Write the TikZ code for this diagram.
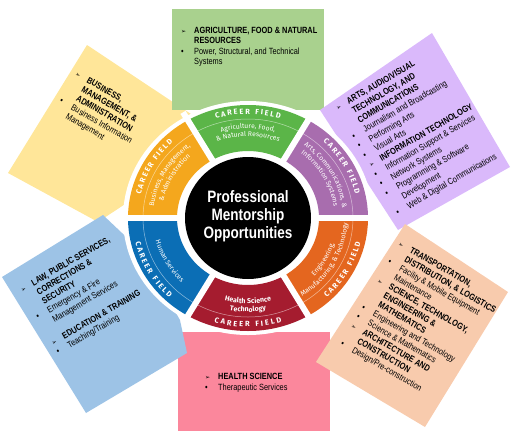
\documentclass[tikz,border=0pt]{standalone}
\usepackage{fontspec}
\setmainfont{Liberation Sans}[FakeStretch=0.82]
\newfontfamily\wheelfont{Fira Sans}
\newfontfamily\symbfont{DejaVu Sans}
\usetikzlibrary{decorations.text}

\definecolor{agrilight}{HTML}{A9D18E}
\definecolor{agri}{HTML}{5BB548}
\definecolor{buslight}{HTML}{FFE699}
\definecolor{bus}{HTML}{F4A71D}
\definecolor{artslight}{HTML}{DAB9FB}
\definecolor{arts}{HTML}{A86DAE}
\definecolor{englight}{HTML}{F8CBAD}
\definecolor{eng}{HTML}{E4661F}
\definecolor{healthlight}{HTML}{FB879C}
\definecolor{health}{HTML}{A51C2F}
\definecolor{humanlight}{HTML}{9DC3E6}
\definecolor{human}{HTML}{0B6EB5}

\newcommand{\arrbul}{\makebox[13pt][l]{\symbfont\fontsize{6}{6}\selectfont ➢}}
\newcommand{\dotbul}{\makebox[13pt][l]{\textbullet}}
\newcommand{\nobul}{\hspace*{13pt}}

\newcommand{\wlab}{\wheelfont\fontsize{6.8}{8}\selectfont\color{white}}
\newcommand{\whlt}{\wheelfont\bfseries\fontsize{7}{8}\selectfont\color{white}}
\newcommand{\wcar}{\wheelfont\bfseries\fontsize{7.5}{8}\selectfont\color{white}}

% curved labels: angle, y radius, format, text
\newcommand{\cwlabel}[4]{%
  \pgfmathsetmacro\labsa{#1+28}\pgfmathsetmacro\labea{#1-28}\pgfmathsetmacro\labrx{1.06*#2}%
  \path[decorate, decoration={text along path, text align=center, text={|#3|#4}}]
    (\labsa:{\labrx} and {#2}) arc[start angle=\labsa, end angle=\labea, x radius=\labrx, y radius=#2];}
\newcommand{\ccwlabel}[4]{%
  \pgfmathsetmacro\labsa{#1-28}\pgfmathsetmacro\labea{#1+28}\pgfmathsetmacro\labrx{1.06*#2}%
  \path[decorate, decoration={text along path, text align=center, text={|#3|#4}}]
    (\labsa:{\labrx} and {#2}) arc[start angle=\labsa, end angle=\labea, x radius=\labrx, y radius=#2];}
\newcommand{\careertop}[1]{%
  \pgfmathsetmacro\labsa{#1+17}\pgfmathsetmacro\labea{#1-17}%
  \path[decorate, decoration={text along path, text align={fit to path}, text={|\wcar|CAREER FIELD}}]
    (\labsa:110 and 104) arc[start angle=\labsa, end angle=\labea, x radius=110, y radius=104];}
\newcommand{\careerbottom}[1]{%
  \pgfmathsetmacro\labsa{#1-17}\pgfmathsetmacro\labea{#1+17}%
  \path[decorate, decoration={text along path, text align={fit to path}, text={|\wcar|CAREER FIELD}}]
    (\labsa:115.5 and 109) arc[start angle=\labsa, end angle=\labea, x radius=115.5, y radius=109];}

\tikzset{
  paneltext/.style={inner sep=0pt, align=left, anchor=north west, font=\fontsize{9}{10.5}\selectfont},
  gapline/.style={white, line width=6pt},
  ring/.style={white, opacity=.55, line width=.5pt},
}

\begin{document}
\begin{tikzpicture}[x=1pt,y=1pt]
    \useasboundingbox (0,0) rectangle (512,-440);

    % panels
    \fill[buslight] (87,-45) -- (8,-173) -- (98,-222) -- (160,-181) -- (215,-130) -- cycle;
    \fill[agrilight] (172,-9) rectangle (324,-110);
    \fill[artslight] (432,-33) -- (510,-167) -- (398,-230) -- (320,-110) -- cycle;
    \fill[healthlight] (178,-332) rectangle (330,-431);
    \fill[englight] (405,-224) -- (508,-292) -- (425,-427) -- (316,-362) -- cycle;
    \fill[humanlight] (2,-277) -- (103,-215) -- (140,-250) -- (180,-320) -- (187,-353) -- (86,-413) -- cycle;

    \node[paneltext] (agritext) at (181,-27) {\arrbul\textbf{AGRICULTURE, FOOD \& NATURAL}\\
      \nobul\textbf{RESOURCES}\\ \dotbul Power, Structural, and Technical\\ \nobul Systems};
    \node[paneltext] (healthtext) at (205,-373) {\arrbul\textbf{HEALTH SCIENCE}\\[1pt] \dotbul Therapeutic Services};
    \node[paneltext, rotate=-30] (bustext) at (78,-70) {\arrbul\textbf{BUSINESS,}\\
      \nobul\textbf{MANAGEMENT, \&}\\ \nobul\textbf{ADMINISTRATION}\\
      \dotbul Business Information\\ \nobul Management};
    \node[paneltext, rotate=30, font=\fontsize{9}{11}\selectfont] (artstext) at (334,-105) {\arrbul\textbf{ARTS, AUDIO/VISUAL}\\
      \nobul\textbf{TECHNOLOGY, AND}\\ \nobul\textbf{COMMUNICATIONS}\\
      \dotbul Journalism and Broadcasting\\ \dotbul Performing Arts\\ \dotbul Visual Arts\\
      \arrbul\textbf{INFORMATION TECHNOLOGY}\\ \dotbul Information Support \& Services\\
      \dotbul Network Systems\\ \dotbul Programming \& Software\\ \nobul Development\\
      \dotbul Web \& Digital Communications};
    \node[paneltext, rotate=30] (humantext) at (19,-287) {\arrbul\textbf{LAW, PUBLIC SERVICES,}\\
      \nobul\textbf{CORRECTIONS \&}\\ \nobul\textbf{SECURITY}\\
      \dotbul Emergency \& Fire\\ \nobul Management Services\\[9pt]
      \arrbul\textbf{EDUCATION \& TRAINING}\\ \dotbul Teaching/Training};
    \node[paneltext, rotate=-30] (engtext) at (401,-240) {\arrbul\textbf{TRANSPORTATION,}\\
      \nobul\textbf{DISTRIBUTION, \& LOGISTICS}\\ \dotbul Facility \& Mobile Equipment\\
      \nobul Maintenance\\ \arrbul\textbf{SCIENCE, TECHNOLOGY,}\\ \nobul\textbf{ENGINEERING \&}\\
      \nobul\textbf{MATHEMATICS}\\ \dotbul Engineering and Technology\\ \dotbul Science \& Mathematics\\
      \arrbul\textbf{ARCHITECTURE AND}\\ \nobul\textbf{CONSTRUCTION}\\ \dotbul Design/Pre-construction};

    % wheel
    \begin{scope}[shift={(248,-218)}]
    \fill[white] (0,0) ellipse[x radius=125, y radius=117];

    \fill[arts] (0:120 and 113) arc[start angle=0, end angle=60, x radius=120, y radius=113]
      -- (60:71 and 67) arc[start angle=60, end angle=0, x radius=71, y radius=67] -- cycle;
    \fill[agri] (60:120 and 113) arc[start angle=60, end angle=120, x radius=120, y radius=113]
      -- (120:71 and 67) arc[start angle=120, end angle=60, x radius=71, y radius=67] -- cycle;
    \fill[bus] (120:120 and 113) arc[start angle=120, end angle=180, x radius=120, y radius=113]
      -- (180:71 and 67) arc[start angle=180, end angle=120, x radius=71, y radius=67] -- cycle;
    \fill[human] (180:120 and 113) arc[start angle=180, end angle=240, x radius=120, y radius=113]
      -- (240:71 and 67) arc[start angle=240, end angle=180, x radius=71, y radius=67] -- cycle;
    \fill[health] (240:120 and 113) arc[start angle=240, end angle=300, x radius=120, y radius=113]
      -- (300:71 and 67) arc[start angle=300, end angle=240, x radius=71, y radius=67] -- cycle;
    \fill[eng] (300:120 and 113) arc[start angle=300, end angle=360, x radius=120, y radius=113]
      -- (360:71 and 67) arc[start angle=360, end angle=300, x radius=71, y radius=67] -- cycle;

    \draw[ring] (0,0) ellipse[x radius=105, y radius=99];

    \coordinate (hub) at (0,0);
    \coordinate (g0) at (0:130 and 122);
    \coordinate (g1) at (60:130 and 122);
    \coordinate (g2) at (120:130 and 122);
    \coordinate (g3) at (180:130 and 122);
    \coordinate (g4) at (240:130 and 122);
    \coordinate (g5) at (300:130 and 122);
    \draw[gapline] (hub) -- (g0);
    \draw[gapline] (hub) -- (g1);
    \draw[gapline] (hub) -- (g2);
    \draw[gapline] (hub) -- (g3);
    \draw[gapline] (hub) -- (g4);
    \draw[gapline] (hub) -- (g5);

    \fill[black] (hub) ellipse[x radius=63, y radius=61];
    \node[text=white, align=center, font=\bfseries\fontsize{16.5}{18}\selectfont] (mentor) at (0,2)
      {Professional\\Mentorship\\Opportunities};

    \careertop{90}
    \careertop{150}
    \careertop{30}
    \careerbottom{210}
    \careerbottom{270}
    \careerbottom{330}

    \cwlabel{90}{89.5}{\wlab}{Agriculture, Food,}
    \cwlabel{90}{81.5}{\wlab}{{\&} Natural Resources}
    \cwlabel{150}{89.5}{\wlab}{Business, Management,}
    \cwlabel{150}{81.5}{\wlab}{{\&} Administration}
    \cwlabel{30}{89.5}{\wlab}{Arts, Communications, {\&}}
    \cwlabel{30}{81.5}{\wlab}{Information Systems}
    \ccwlabel{330}{85.5}{\wlab}{Engineering,}
    \ccwlabel{330}{94}{\wlab}{Manufacturing, {\&} Technology}
    \ccwlabel{270}{85.5}{\whlt}{Health Science}
    \ccwlabel{270}{94}{\whlt}{Technology}
    \ccwlabel{210}{90}{\wlab}{Human Services}
    \end{scope}
\end{tikzpicture}
\end{document}
